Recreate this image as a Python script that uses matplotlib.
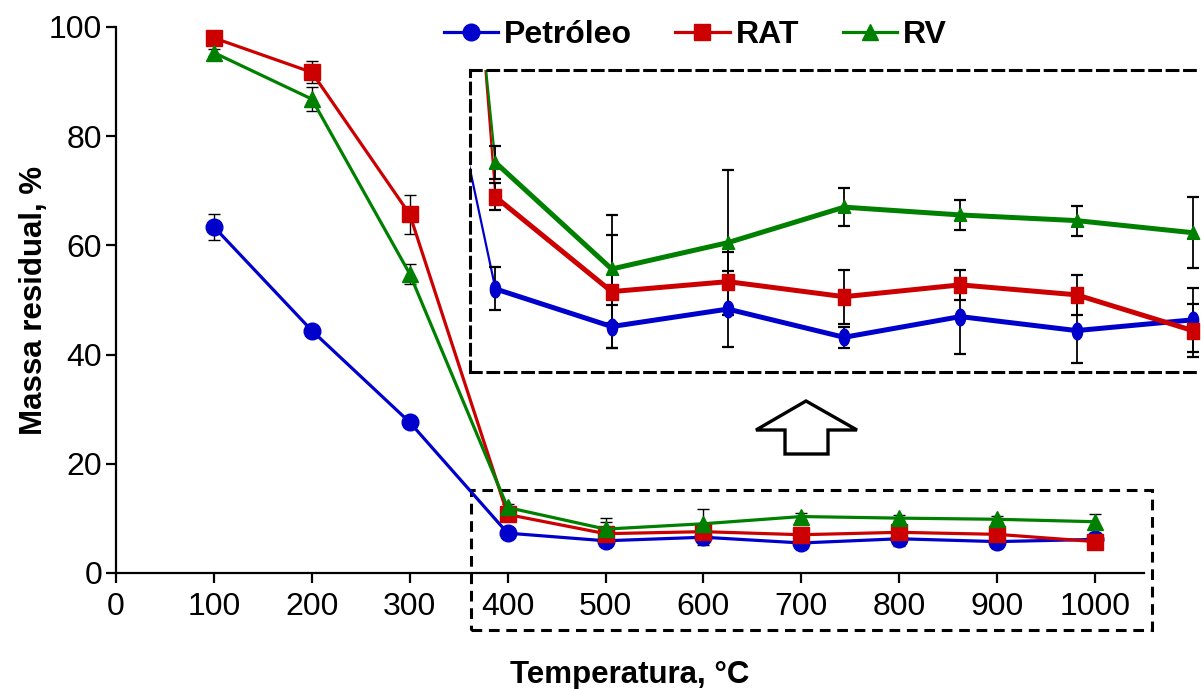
import numpy as np
import matplotlib
matplotlib.use("Agg")
import matplotlib.pyplot as plt
from matplotlib.patches import Rectangle, Polygon
from matplotlib.lines import Line2D

plt.rcParams['font.family'] = ['Liberation Sans', 'DejaVu Sans']

temp = [100, 200, 300, 400, 500, 600, 700, 800, 900, 1000]
petroleo = [63.4, 44.4, 27.6, 7.3, 5.9, 6.55, 5.5, 6.27, 5.75, 6.15]
rat = [98.0, 91.7, 65.7, 10.72, 7.2, 7.57, 7.01, 7.45, 7.08, 5.75]
rv = [95.3, 86.8, 54.8, 12.0, 8.04, 9.02, 10.34, 10.05, 9.84, 9.39]
petroleo_err = [2.4, 0.5, 0.5, 0.8, 0.8, 1.4, 0.4, 1.4, 1.2, 1.2]
rat_err = [0.5, 2.0, 3.6, 0.5, 2.1, 1.1, 1.0, 0.55, 0.75, 1.0]
rv_err = [0.6, 2.2, 1.8, 0.6, 2.0, 2.7, 0.7, 0.55, 0.56, 1.33]

labels = ['Petróleo', 'RAT', 'RV']
colors = ['#0000CC', '#CC0000', '#008000']
markers = ['o', 's', '^']
series = [petroleo, rat, rv]
errors = [petroleo_err, rat_err, rv_err]

W, H = 1201, 689
fig = plt.figure(figsize=(W / 100, H / 100), dpi=100)

# main axes
ax = fig.add_axes([116 / W, 1 - 573 / H, (1144 - 116) / W, (573 - 27) / H])
for y, e, c, m in zip(series, errors, colors, markers):
    ax.errorbar(temp, y, yerr=e, color=c, marker=m, ms=12, lw=2.3,
                ecolor='black', elinewidth=1, capsize=4, capthick=1)
ax.set_xlim(0, 1050)
ax.set_ylim(0, 100)
ax.set_xticks(range(0, 1001, 100))
ax.set_yticks(range(0, 101, 20))
ax.spines['top'].set_visible(False)
ax.spines['right'].set_visible(False)
for s in ['left', 'bottom']:
    ax.spines[s].set_linewidth(1.6)
ax.tick_params(direction='out', length=7, width=1.6, labelsize=23)
ax.tick_params(axis='x', pad=7)
ax.tick_params(axis='y', pad=3)
ax.set_xlabel('Temperatura, °C', fontsize=22.5, fontweight='bold', labelpad=27)
ax.set_ylabel('Massa residual, %', fontsize=22.5, fontweight='bold', labelpad=0)

# dashed box around the low-value region
ax.add_patch(Rectangle((363, -10.4), 1058 - 363, 15.2 + 10.4, fill=False,
                       ls=(0, (3.5, 2.2)), lw=2.2, ec='black', clip_on=False))

# legend
handles = [Line2D([], [], color=c, marker=m, ms=12, lw=2.3)
           for c, m in zip(colors, markers)]
fig.legend(handles, labels, loc='center', bbox_to_anchor=(0.579, 0.949), ncol=3,
           frameon=False, prop={'size': 23, 'weight': 'bold'},
           handlelength=1.7, handletextpad=0.2, columnspacing=1.35)

# zoomed inset
ins = fig.add_axes([470 / W, 1 - 372 / H, (W - 470) / W, 302 / H])
ins.set_xlim(378.1, 1007.1)
ins.set_ylim(4.21, 15.44)
ins.set_xticks([])
ins.set_yticks([])
ins.patch.set_alpha(0)
ins.spines['right'].set_visible(False)
for s in ['left', 'top', 'bottom']:
    ins.spines[s].set_linestyle((0, (3.5, 2.2)))
    ins.spines[s].set_linewidth(2.2)

t = np.linspace(0, 2 * np.pi, 40)
tall_markers = [list(zip(0.62 * np.cos(t), np.sin(t))),
                [(-0.72, -1), (0.72, -1), (0.72, 1), (-0.72, 1), (-0.72, -1)],
                [(-0.85, -0.8), (0.85, -0.8), (0, 1), (-0.85, -0.8)]]
tall_sizes = [12, 11.5, 10.5]
for y, e, c, m, s in zip(series, errors, colors, tall_markers, tall_sizes):
    ins.plot(temp[2:4], y[2:4], color=c, lw=1.6)
    ins.errorbar(temp[3:], y[3:], yerr=e[3:], color=c, marker=m, ms=s, lw=3.6,
                 ecolor='black', elinewidth=1.3, capsize=4, capthick=1.6)

# hollow arrow pointing up
pts = [(806, 401), (857, 430), (828, 430), (828, 454), (785, 454), (785, 430), (756, 430)]
fig.patches.append(Polygon([(x / W, 1 - y / H) for x, y in pts], closed=True,
                           fc='white', ec='black', lw=2.4,
                           transform=fig.transFigure, figure=fig))

fig.savefig('out.png', dpi=100)
